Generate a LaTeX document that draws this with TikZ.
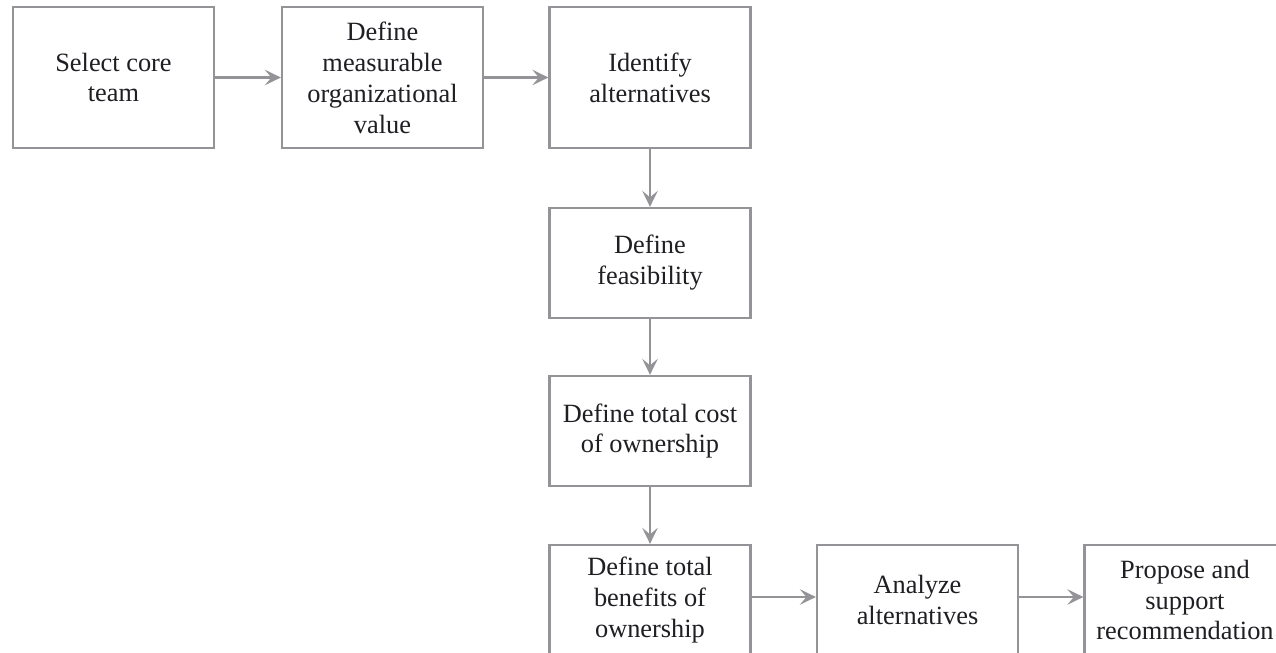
\documentclass[tikz,border=0pt]{standalone}
\usepackage{fontspec}
\setmainfont{Liberation Serif}
\usetikzlibrary{arrows.meta,positioning}
\definecolor{edge}{RGB}{148,148,152}
\definecolor{ink}{RGB}{30,30,35}
\tikzset{
  stage/.style={draw=edge, line width=1.3pt, fill=white, text=ink,
              minimum width=4.02cm, minimum height=2.2cm, align=center,
              inner sep=2pt, font=\fontsize{15}{17.6}\selectfont},
  topstage/.style={stage, minimum height=2.82cm},
  flow/.style={-{Stealth[length=3.2mm,width=3.1mm,inset=1.3mm]}, edge, line width=1.3pt},
}

\begin{document}
\begin{tikzpicture}
        \useasboundingbox (0,0) rectangle (25.52,-13.06);
        \node[topstage] (team) at (2.27,-1.55) {Select core\\team};
        \node[topstage] (value) at (7.65,-1.55) {Define\\measurable\\organizational\\value};
        \node[topstage] (alts) at (13.0,-1.55) {Identify\\alternatives};
        \node[stage] (feas) at (13.0,-5.26) {Define\\feasibility};
        \node[stage] (tco) at (13.0,-8.62) {Define total cost\\of ownership};
        \node[stage] (tbo) at (13.0,-12.0) {Define total\\benefits of\\ownership};
        \node[stage] (analyze) at (18.35,-12.0) {Analyze\\alternatives};
        \node[stage] (propose) at (23.7,-12.0) {Propose and\\support\\recommendation};
        \draw[flow] (team.east) -- (value.west);
        \draw[flow] (value.east) -- (alts.west);
        \draw[flow] (alts.south) -- (feas.north);
        \draw[flow] (feas.south) -- (tco.north);
        \draw[flow] (tco.south) -- (tbo.north);
        \draw[flow] ([yshift=0.06cm]tbo.east) -- ([yshift=0.06cm]analyze.west);
        \draw[flow] ([yshift=0.06cm]analyze.east) -- ([yshift=0.06cm]propose.west);
      \end{tikzpicture}
\end{document}
